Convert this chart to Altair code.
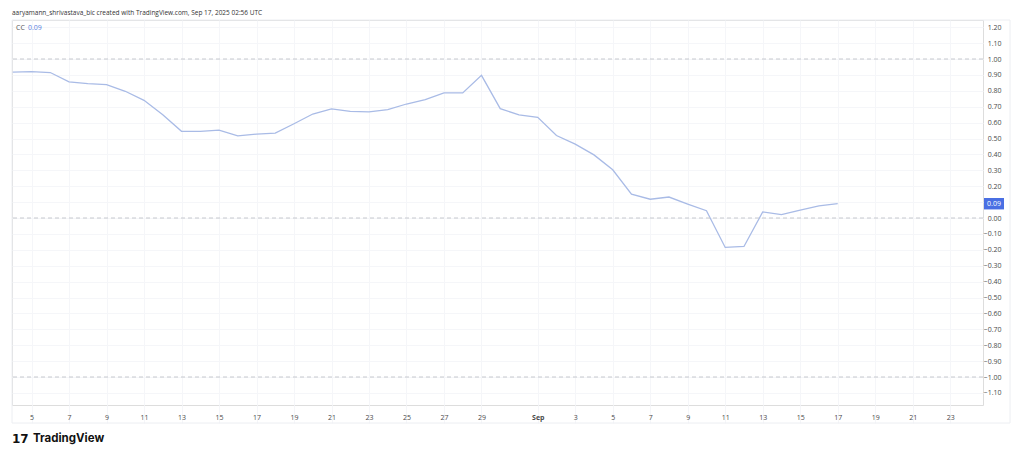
import altair as alt
import pandas as pd

# ---- data ----
dates = pd.date_range("2025-08-04", periods=45, freq="D").strftime("%Y-%m-%d").tolist()
values = [0.917, 0.920, 0.915, 0.856, 0.845, 0.839, 0.797, 0.740, 0.650, 0.545,
          0.545, 0.553, 0.517, 0.528, 0.534, 0.593, 0.654, 0.686, 0.671, 0.667,
          0.681, 0.717, 0.745, 0.787, 0.787, 0.897, 0.688, 0.648, 0.633, 0.519,
          0.465, 0.397, 0.303, 0.150, 0.118, 0.132, 0.088, 0.046, -0.185, -0.179,
          0.038, 0.021, 0.050, 0.076, 0.090]
levels = [1.0, 0.0, -1.0]
y_ticks = [1.2, 1.1, 1.0, 0.9, 0.8, 0.7, 0.6, 0.5, 0.4, 0.3, 0.2, 0.1, 0.0,
           -0.1, -0.2, -0.3, -0.4, -0.5, -0.6, -0.7, -0.8, -0.9, -1.0, -1.1]
x_tick_days = [(8, 5), (8, 7), (8, 9), (8, 11), (8, 13), (8, 15), (8, 17), (8, 19),
               (8, 21), (8, 23), (8, 25), (8, 27), (8, 29), (9, 1), (9, 3), (9, 5),
               (9, 7), (9, 9), (9, 11), (9, 13), (9, 15), (9, 17), (9, 19), (9, 21),
               (9, 23)]
header = "aaryamann_shrivastava_bic created with TradingView.com, Sep 17, 2025 02:56 UTC"
series_name = "CC"
last_label = "0.09"

df = pd.DataFrame({"date": dates, "value": values})
df_levels = pd.DataFrame({"level": levels})
df_last = pd.DataFrame({"value": [values[-1]], "label": [last_label]})

W, H = 971, 385
FONT = "Open Sans"
GRID = "#f5f6f9"
LINE = "#a9bbe6"
BLUE = "#4a6fe3"

x_scale = alt.Scale(type="utc",
                    domain=[alt.DateTime(year=2025, month=8, date=3, hours=23, utc=True),
                            alt.DateTime(year=2025, month=9, date=24, hours=18, utc=True)])
y_scale = alt.Scale(domain=[-1.176, 1.2453], nice=False, zero=False)

x_axis = alt.Axis(
    orient="bottom", title=None, grid=True, gridColor=GRID, gridWidth=1,
    values=[alt.DateTime(year=2025, month=m, date=d, utc=True) for m, d in x_tick_days],
    labelExpr="utcdate(datum.value) == 1 ? 'Sep' : '' + utcdate(datum.value)",
    labelFontWeight={"condition": {"test": "utcdate(datum.value) == 1", "value": "bold"}, "value": "normal"},
    domain=False, ticks=True, tickSize=18, tickColor=GRID, labelPadding=-10,
    labelFontSize=7, labelFont=FONT, labelColor="#4a4a4a", labelFlush=False,
    labelOverlap=False)
y_axis = alt.Axis(
    orient="right", title=None, grid=True, gridColor=GRID, gridWidth=1,
    values=y_ticks, format=".2f", domain=False, ticks=False,
    labelAlign="right", labelPadding=18, labelFontSize=7, labelFont=FONT,
    labelColor="#4a4a4a", labelOverlap=False, labelFlush=False)

line = alt.Chart(df).mark_line(color=LINE, strokeWidth=1.3).encode(
    x=alt.X("date:T", scale=x_scale, axis=x_axis),
    y=alt.Y("value:Q", scale=y_scale, axis=y_axis),
)

rules = alt.Chart(df_levels).mark_rule(color="#c6c8ce", strokeDash=[4, 3], strokeWidth=1).encode(
    y=alt.Y("level:Q", scale=y_scale, axis=y_axis),
)

box = alt.Chart(df_last).transform_calculate(
    lo="datum.value - 0.036", hi="datum.value + 0.036"
).mark_rect(color=BLUE).encode(
    y=alt.Y("lo:Q", scale=y_scale, axis=y_axis),
    y2="hi:Q",
    x=alt.value(W + 1), x2=alt.value(W + 21),
)
box_text = alt.Chart(df_last).mark_text(color="white", fontSize=7, font=FONT, align="center",
                                         baseline="middle").encode(
    y=alt.Y("value:Q", scale=y_scale, axis=y_axis),
    x=alt.value(W + 11), text="label:N",
)

frame = alt.Chart(df_last).mark_rect(fill=None, stroke="#eceef2", strokeWidth=1).encode(
    x=alt.value(0), x2=alt.value(998), y=alt.value(0), y2=alt.value(403),
)

head = alt.Chart(pd.DataFrame({"t": [header]})).mark_text(
    align="left", baseline="middle", fontSize=6.5, font=FONT, color="#333333"
).encode(x=alt.value(0), y=alt.value(-7), text="t:N")

legend_name = alt.Chart(pd.DataFrame({"t": [series_name]})).mark_text(
    align="left", baseline="middle", fontSize=7, font=FONT, color="#555555"
).encode(x=alt.value(4), y=alt.value(8), text="t:N")
legend_val = alt.Chart(df_last).mark_text(
    align="left", baseline="middle", fontSize=7, font=FONT, color="#5b7fe0"
).encode(x=alt.value(16), y=alt.value(8), text="label:N")

logo = alt.Chart(pd.DataFrame({"t": ["17"]})).mark_text(
    align="left", baseline="middle", fontSize=12, font="DejaVu Sans", fontWeight="bold",
    color="#111111"
).encode(x=alt.value(0), y=alt.value(419), text="t:N")
brand = alt.Chart(pd.DataFrame({"t": ["TradingView"]})).mark_text(
    align="left", baseline="middle", fontSize=11.5, font="Inter", fontWeight="bold",
    color="#111111"
).encode(x=alt.value(21), y=alt.value(419), text="t:N")

chart = alt.layer(
    frame, line, rules, box, box_text, head, legend_name, legend_val, logo, brand
).properties(
    width=W, height=H,
    autosize=alt.AutoSizeParams(type="none"),
    padding={"left": 4, "top": 12, "right": 33, "bottom": 43},
).configure_view(stroke=None).configure(background="white")

chart.save("out.html", embed_options={"renderer": "svg", "actions": False})
